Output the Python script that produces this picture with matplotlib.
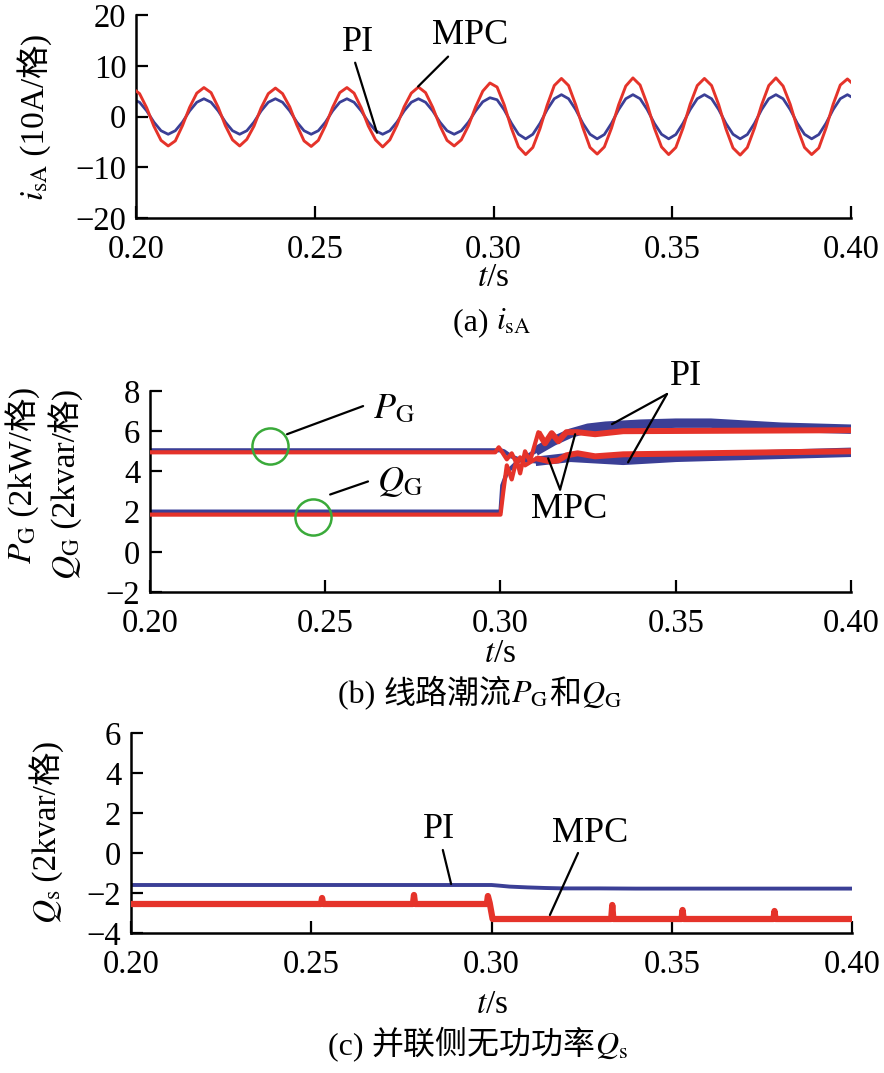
import numpy as np
import matplotlib
matplotlib.use("Agg")
import matplotlib.pyplot as plt

plt.rcParams['font.family'] = ['Liberation Serif', 'Noto Sans CJK SC']
plt.rcParams['mathtext.fontset'] = 'stix'
plt.rcParams['axes.unicode_minus'] = True

BLUE = '#3b3f96'
RED = '#e5332a'
GREEN = '#3aaa3a'

# ---------------- data: (a) i_sA, sampled every 2 ms starting at a crest (t = 0.199 s)
t_a_start = 0.199
t_a_step = 0.002
isA_mpc = [
    5.6, 4.5, 1.7, -1.9, -4.7, -5.8, -4.8, -1.8, 1.8, 4.6,
    5.7, 4.7, 1.8, -1.8, -4.6, -5.8, -4.5, -1.9, 1.7, 4.5,
    5.6, 4.5, 1.9, -1.7, -4.8, -5.9, -4.7, -1.8, 1.8, 4.7,
    5.7, 4.6, 1.7, -1.9, -4.6, -6.0, -4.6, -1.7, 1.9, 4.6,
    5.8, 4.7, 1.8, -1.8, -4.7, -5.8, -4.6, -1.8, 1.9, 5.0,
    6.6, 5.8, 2.3, -2.3, -6.0, -7.5, -6.1, -2.4, 2.2, 6.1,
    7.5, 6.1, 2.3, -2.2, -6.1, -7.4, -6.0, -2.3, 2.3, 6.0,
    7.6, 6.2, 2.4, -2.3, -6.0, -7.5, -6.1, -2.3, 2.4, 6.1,
    7.5, 6.1, 2.3, -2.4, -6.2, -7.6, -6.1, -2.3, 2.3, 6.1,
    7.6, 6.0, 2.4, -2.3, -6.1, -7.5, -6.2, -2.3, 2.4, 6.2,
    7.4, 6.1]
isA_pi = [
    3.4, 2.8, 1.1, -1.1, -2.8, -3.5, -2.8, -1.1, 1.1, 2.8,
    3.5, 2.8, 1.1, -1.1, -2.8, -3.5, -2.8, -1.1, 1.1, 2.8,
    3.5, 2.8, 1.1, -1.1, -2.8, -3.5, -2.8, -1.1, 1.1, 2.8,
    3.5, 2.8, 1.1, -1.1, -2.8, -3.5, -2.8, -1.1, 1.1, 2.8,
    3.5, 2.8, 1.1, -1.1, -2.8, -3.5, -2.8, -1.1, 1.1, 2.9,
    3.7, 3.3, 1.3, -1.3, -3.5, -4.4, -3.5, -1.35, 1.35, 3.5,
    4.3, 3.5, 1.35, -1.35, -3.5, -4.4, -3.55, -1.35, 1.35, 3.5,
    4.3, 3.5, 1.35, -1.35, -3.5, -4.4, -3.55, -1.35, 1.35, 3.5,
    4.3, 3.5, 1.35, -1.35, -3.5, -4.4, -3.55, -1.35, 1.35, 3.5,
    4.3, 3.5, 1.35, -1.35, -3.5, -4.4, -3.55, -1.35, 1.35, 3.5,
    4.3, 3.5]

# ---------------- data: (b) P_G and Q_G
t_pg_pi = [0.2, 0.3, 0.301, 0.303, 0.306, 0.31, 0.315, 0.32, 0.325, 0.33, 0.335, 0.34, 0.35, 0.36, 0.37, 0.38, 0.39, 0.4]
pg_pi = [5.05, 5.05, 5.0, 4.75, 4.55, 4.5, 4.6, 4.7, 4.65, 4.6, 4.55, 4.6, 4.7, 4.75, 4.8, 4.85, 4.9, 4.95]
t_qg_pi = [0.2, 0.3, 0.3005, 0.302, 0.305, 0.31, 0.315, 0.32, 0.325, 0.33, 0.34, 0.35, 0.36, 0.37, 0.38, 0.39, 0.4]
qg_pi = [2.0, 2.0, 3.3, 4.0, 4.5, 5.0, 5.5, 5.9, 6.15, 6.25, 6.35, 6.4, 6.4, 6.3, 6.2, 6.15, 6.1]
t_qg_mpc = [0.2, 0.3, 0.3008, 0.3018, 0.3032, 0.3046, 0.3056, 0.307, 0.3084, 0.3108, 0.3127, 0.3146, 0.3165, 0.3188, 0.322, 0.327, 0.335, 0.4]
qg_mpc = [1.85, 1.85, 3.0, 4.3, 3.6, 4.6, 3.9, 5.0, 4.5, 5.95, 5.4, 5.9, 5.5, 5.95, 5.95, 5.85, 6.0, 6.05]
t_pg_mpc = [0.2, 0.2985, 0.2995, 0.3005, 0.3018, 0.3032, 0.3046, 0.3056, 0.307, 0.3103, 0.3141, 0.3165, 0.3188, 0.322, 0.327, 0.335, 0.4]
pg_mpc = [4.95, 4.95, 5.2, 4.95, 4.6, 4.9, 4.4, 4.7, 4.3, 4.65, 4.5, 4.55, 4.8, 4.9, 4.75, 4.85, 5.0]

# ---------------- data: (c) Q_s
t_qs_pi = [0.2, 0.3, 0.302, 0.305, 0.31, 0.315, 0.32, 0.33, 0.34, 0.4]
qs_pi = [-1.6, -1.6, -1.63, -1.68, -1.72, -1.75, -1.77, -1.77, -1.78, -1.78]
t_qs_mpc = [0.2, 0.22, 0.2527, 0.253, 0.2533, 0.2782, 0.2785, 0.2788, 0.2987, 0.299, 0.2995, 0.3003,
            0.3332, 0.3335, 0.3338, 0.3527, 0.353, 0.3533, 0.3782, 0.3785, 0.3788, 0.4]
qs_mpc = [-2.55, -2.55, -2.55, -2.25, -2.55, -2.55, -2.1, -2.55, -2.55, -2.15, -2.5, -3.3,
          -3.3, -2.6, -3.3, -3.3, -2.85, -3.3, -3.3, -2.9, -3.3, -3.3]

xticks = [0.20, 0.25, 0.30, 0.35, 0.40]
yticks_a = [-20, -10, 0, 10, 20]
yticks_b = [-2, 0, 2, 4, 6, 8]
yticks_c = [-4, -2, 0, 2, 4, 6]

W, H = 884, 1073
fig = plt.figure(figsize=(W / 100, H / 100), dpi=100)


def add_ax(left, top, right, bottom):
    return fig.add_axes([left / W, 1 - bottom / H, (right - left) / W, (bottom - top) / H])


def style(ax, yticks, ylim):
    ax.set_xlim(0.2, 0.4)
    ax.set_ylim(*ylim)
    ax.set_xticks(xticks)
    ax.set_xticklabels([f'{v:.2f}' for v in xticks])
    ax.set_yticks(yticks)
    for s in ('top', 'right'):
        ax.spines[s].set_visible(False)
    for s in ('left', 'bottom'):
        ax.spines[s].set_linewidth(1.8)
    ax.tick_params(direction='in', length=8.5, width=1.6, labelsize=23.5)
    ax.tick_params(axis='x', pad=12)
    ax.tick_params(axis='y', pad=7)


# ---- panel a
axa = add_ax(136, 15, 851, 218)
t_a = t_a_start + t_a_step * np.arange(len(isA_mpc))
axa.plot(t_a, isA_mpc, color=RED, lw=2.1, zorder=3)
axa.plot(t_a, isA_pi, color=BLUE, lw=2.0, zorder=2)
style(axa, yticks_a, (-20, 20))

# ---- panel b
axb = add_ax(150, 391, 851, 592)
for tt, vv, col, lw1, lw2, z in [(t_pg_pi, pg_pi, BLUE, 3.0, 6.8, 2), (t_qg_pi, qg_pi, BLUE, 3.0, 6.8, 2),
                                  (t_pg_mpc, pg_mpc, RED, 3.0, 4.3, 3), (t_qg_mpc, qg_mpc, RED, 3.0, 4.3, 3)]:
    tt = np.array(tt); vv = np.array(vv)
    axb.plot(tt, vv, color=col, lw=lw1, zorder=z)
    m = tt >= 0.31
    axb.plot(tt[m], vv[m], color=col, lw=lw2, zorder=z, solid_capstyle='butt')
style(axb, yticks_b, (-2, 8))

# ---- panel c
axc = add_ax(131, 733, 852, 933)
axc.plot(t_qs_pi, qs_pi, color=BLUE, lw=2.8, zorder=2)
axc.plot(t_qs_mpc, qs_mpc, color=RED, lw=4.5, zorder=3)
style(axc, yticks_c, (-4, 6))

# ---- annotations
def line(ax, p0, p1):
    ax.annotate('', xy=p1, xytext=p0, annotation_clip=False,
                arrowprops=dict(arrowstyle='-', lw=1.6, color='black', shrinkA=0, shrinkB=0))

axa.text(0.2621, 14.6, 'PI', fontsize=26, ha='center', va='center')
line(axa, (0.2613, 10.6), (0.2674, -3.2))
axa.text(0.2934, 16.0, 'MPC', fontsize=26, ha='center', va='center')
line(axa, (0.2873, 11.8), (0.2789, 5.9))

axb.plot([0.2342], [5.25], marker='o', ms=26, mfc='none', mec=GREEN, mew=1.8, zorder=5)
axb.plot([0.2465], [1.75], marker='o', ms=26, mfc='none', mec=GREEN, mew=1.8, zorder=5)
axb.text(0.2696, 7.05, r'$P_{\mathrm{G}}$', fontsize=26, ha='center', va='center')
line(axb, (0.2608, 7.25), (0.2391, 5.85))
axb.text(0.2713, 3.45, r'$Q_{\mathrm{G}}$', fontsize=26, ha='center', va='center')
line(axb, (0.2622, 3.5), (0.2514, 2.85))
axb.text(0.3529, 8.7, 'PI', fontsize=26, ha='center', va='center', clip_on=False)
line(axb, (0.3475, 7.85), (0.3318, 6.35))
line(axb, (0.3475, 7.85), (0.3364, 4.45))
axb.text(0.3195, 2.1, 'MPC', fontsize=26, ha='center', va='center')
line(axb, (0.3170, 3.1), (0.3136, 4.65))
line(axb, (0.3170, 3.1), (0.3213, 5.85))

axc.text(0.2854, 1.15, 'PI', fontsize=26, ha='center', va='center')
line(axc, (0.2865, 0.15), (0.2888, -1.55))
axc.text(0.3273, 1.0, 'MPC', fontsize=26, ha='center', va='center')
line(axc, (0.3240, 0.0), (0.3162, -3.1))

# ---- rich text helper (mixed mathtext / CJK pieces, one font per piece)
renderer = fig.canvas.get_renderer()
LAT = 'Liberation Serif'
CJK = 'Noto Sans CJK SC'


def rich(pieces, x, y, size, rotation=0):
    pieces = [p if isinstance(p, tuple) else (p, LAT) for p in pieces]
    widths = []
    for s, fam in pieces:
        tmp = fig.text(0, 0, s, fontsize=size, family=fam)
        widths.append(tmp.get_window_extent(renderer).width)
        tmp.remove()
    total = sum(widths)
    if rotation == 0:
        cur = x - total / 2
        for (s, fam), w in zip(pieces, widths):
            fig.text(cur / W, 1 - y / H, s, fontsize=size, family=fam, ha='left', va='baseline')
            cur += w
    else:
        cur = y + total / 2
        for (s, fam), w in zip(pieces, widths):
            fig.text(x / W, 1 - cur / H, s, fontsize=size, family=fam, ha='left', va='baseline',
                     rotation=90, rotation_mode='anchor')
            cur -= w


def unit(num):
    return [(' (' + num, LAT), ('格', CJK), (')', LAT)]


# y labels
rich([r'$i_{\mathrm{sA}}$'] + unit('10A/'), 44, 117, 24, rotation=90)
rich([r'$P_{\mathrm{G}}$'] + unit('2kW/'), 32, 475, 24, rotation=90)
rich([r'$Q_{\mathrm{G}}$'] + unit('2kvar/'), 75, 484, 24, rotation=90)
rich([r'$Q_{\mathrm{s}}$'] + unit('2kvar/'), 56, 832, 24, rotation=90)

# x labels
rich([r'$t$/s'], 493, 286, 24)
rich([r'$t$/s'], 500, 662, 24)
rich([r'$t$/s'], 492, 1013, 24)

# captions
rich(['(a) ', r'$i_{\mathrm{sA}}$'], 492, 330, 23)
rich(['(b) ', ('线路潮流', CJK), r'$P_{\mathrm{G}}$', ('和', CJK), r'$Q_{\mathrm{G}}$'], 480, 703, 23)
rich(['(c) ', ('并联侧无功功率', CJK), r'$Q_{\mathrm{s}}$'], 478, 1054, 23)

fig.savefig('out.png', dpi=100)
